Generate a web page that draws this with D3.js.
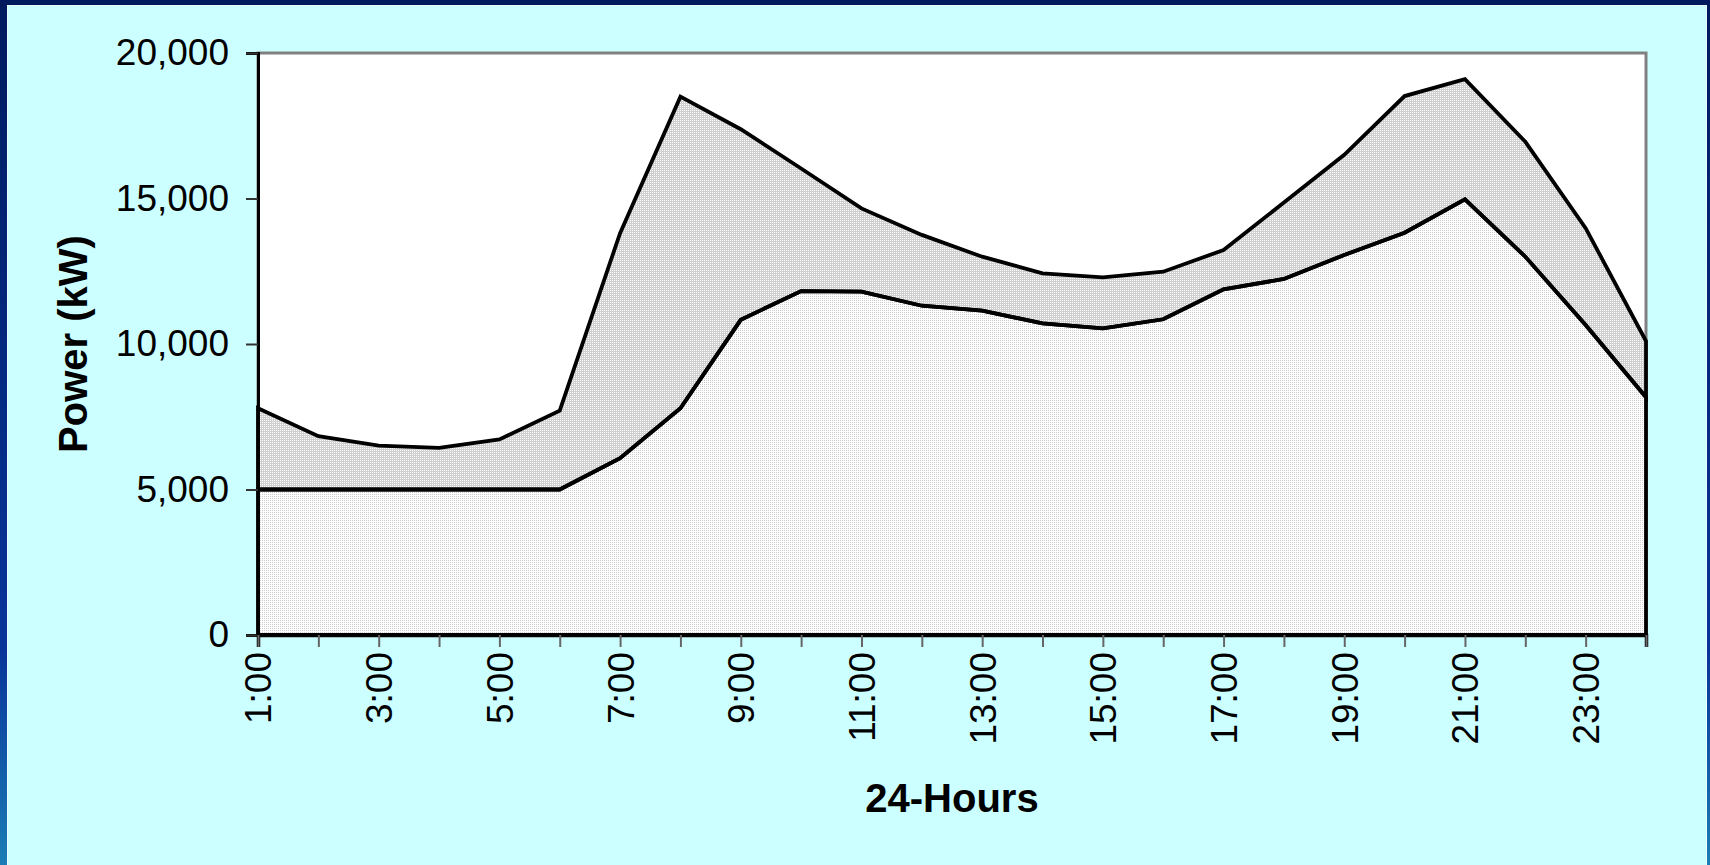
<!DOCTYPE html>
<html>
<head>
<meta charset="utf-8">
<script src="https://cdn.jsdelivr.net/npm/d3@7"></script>
<style>
  html, body { margin: 0; padding: 0; background: #ccffff; overflow: hidden; }
  svg { display: block; }
  text { font-family: "Liberation Sans", Arial, sans-serif; fill: #000; }
</style>
</head>
<body>
<svg id="chart" width="1710" height="865"></svg>
<script>
// ---- data ----
const hours = ["1:00","2:00","3:00","4:00","5:00","6:00","7:00","8:00","9:00","10:00","11:00","12:00",
               "13:00","14:00","15:00","16:00","17:00","18:00","19:00","20:00","21:00","22:00","23:00","24:00"];
const baseLoad = [5000,5000,5000,5000,5000,5000,6075,7790,10830,11820,11800,11315,
                  11145,10710,10540,10850,11880,12235,13060,13825,14970,13000,10650,8170];
const extraLoad = [2790,1830,1510,1430,1720,2710,7735,10710,6550,4210,2860,2435,
                   1855,1720,1750,1635,1350,2625,3440,4695,4130,3950,3330,1930];
const yTicks = [0,5000,10000,15000,20000];
const yTitle = "Power (kW)";
const xTitle = "24-Hours";

// ---- layout ----
const W = 1710, H = 865;
const plot = { left: 258, right: 1646, top: 53, bottom: 635 };

const svg = d3.select("#chart");
const defs = svg.append("defs");

// frame gradients
const gL = defs.append("linearGradient").attr("id","gSide").attr("x1",0).attr("y1",0).attr("x2",0).attr("y2",1);
gL.append("stop").attr("offset","0").attr("stop-color","#001a5e");
gL.append("stop").attr("offset","0.75").attr("stop-color","#08349a");
gL.append("stop").attr("offset","1").attr("stop-color","#1a7db5");

// fill patterns
const pUp = defs.append("pattern").attr("id","pUpper").attr("patternUnits","userSpaceOnUse")
  .attr("width",2).attr("height",2);
pUp.append("rect").attr("width",2).attr("height",2).attr("fill","#cfcfcf");
pUp.append("rect").attr("width",1).attr("height",1).attr("fill","#ffffff");
const pLo = defs.append("pattern").attr("id","pLower").attr("patternUnits","userSpaceOnUse")
  .attr("width",2).attr("height",2);
pLo.append("rect").attr("width",2).attr("height",2).attr("fill","#ffffff");
pLo.append("rect").attr("width",1).attr("height",1).attr("fill","#cdcdcd");

// background frame
svg.append("rect").attr("x",0).attr("y",0).attr("width",W).attr("height",H).attr("fill","url(#gSide)");
svg.append("rect").attr("x",0).attr("y",0).attr("width",W).attr("height",5).attr("fill","#001a5e");
svg.append("rect").attr("x",7).attr("y",5).attr("width",1700).attr("height",H).attr("fill","#e8ffff");
svg.append("rect").attr("x",8).attr("y",6).attr("width",1698).attr("height",H).attr("fill","#ccffff");

// scales
const x = d3.scalePoint().domain(hours).range([plot.left, plot.right]).padding(0);
const y = d3.scaleLinear().domain([0,20000]).range([plot.bottom, plot.top]);

// plot area
svg.append("rect").attr("x",plot.left).attr("y",plot.top)
  .attr("width",plot.right-plot.left).attr("height",plot.bottom-plot.top)
  .attr("fill","#ffffff").attr("stroke","#808080").attr("stroke-width",3);

// stacked data
const rows = hours.map((h,i) => ({ hour: h, base: baseLoad[i], extra: extraLoad[i] }));
const stack = d3.stack().keys(["base","extra"]);
const series = stack(rows);

const area = d3.area()
  .x(d => x(d.data.hour))
  .y0(d => y(d[0]))
  .y1(d => y(d[1]));

const fills = ["url(#pLower)","url(#pUpper)"];
svg.append("g").selectAll("path").data(series).join("path")
  .attr("d", area)
  .attr("fill", (d,i) => fills[i])
  .attr("stroke", "none");

// outlines drawn on top of both fills
svg.append("g").selectAll("path").data(series).join("path")
  .attr("d", area)
  .attr("fill", "none")
  .attr("stroke", "#000")
  .attr("stroke-width", 3.8)
  .attr("stroke-linejoin", "miter");

// y axis
const yAxis = d3.axisLeft(y).tickValues(yTicks).tickFormat(d3.format(",")).tickSize(12).tickPadding(17);
const gy = svg.append("g").attr("transform", `translate(${plot.left},0)`).call(yAxis);
gy.select(".domain").attr("stroke","#000").attr("stroke-width",3);
gy.selectAll(".tick line").attr("stroke","#333").attr("stroke-width",2);
gy.selectAll(".tick text").style("font-size","37px").style("font-family","'Liberation Sans', Arial, sans-serif");

// x axis
const xAxis = d3.axisBottom(x).tickSize(12).tickPadding(0)
  .tickFormat((d,i) => (i % 2 === 0 ? d : ""));
const gx = svg.append("g").attr("transform", `translate(0,${plot.bottom})`).call(xAxis);
gx.select(".domain").attr("stroke","#000").attr("stroke-width",3.5);
gx.selectAll(".tick line").attr("stroke","#666").attr("stroke-width",2);
gx.selectAll(".tick text")
  .style("font-size","37px").style("font-family","'Liberation Sans', Arial, sans-serif")
  .attr("transform","rotate(-90)")
  .attr("text-anchor","end")
  .attr("x",-17).attr("y",0).attr("dy","0.35em");

// axis titles
svg.append("text").attr("transform","translate(87,344) rotate(-90)")
  .attr("text-anchor","middle").style("font-size","40px").style("font-weight","bold").text(yTitle);
svg.append("text").attr("x",(plot.left+plot.right)/2).attr("y",812)
  .attr("text-anchor","middle").style("font-size","40px").style("font-weight","bold").text(xTitle);
</script>
</body>
</html>
